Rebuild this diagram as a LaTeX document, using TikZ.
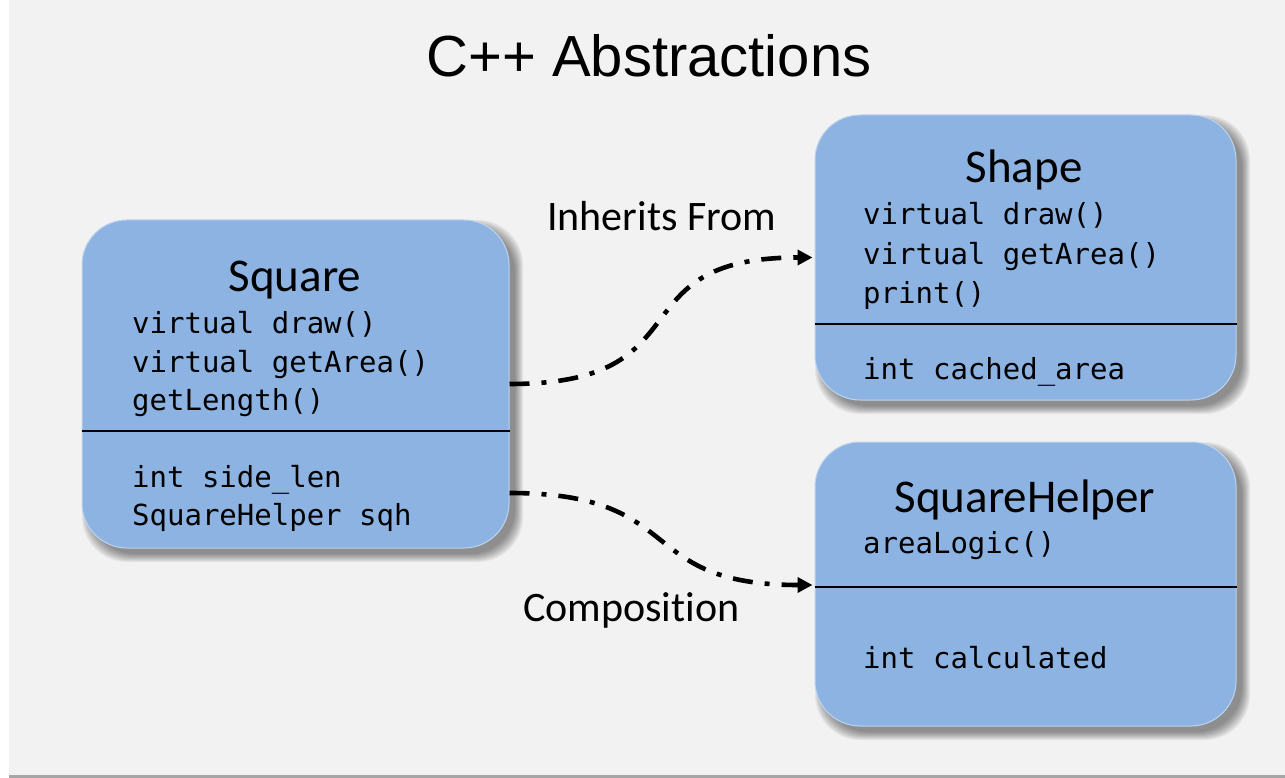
\documentclass[tikz,border=0pt]{standalone}
\usepackage{fontspec}
\setmainfont[Ligatures={NoCommon,NoContextual}]{Carlito}
\setmonofont{DejaVu Sans Mono}
\newfontfamily\arialfont{Liberation Sans}
\usetikzlibrary{arrows.meta}
\definecolor{slidebg}{HTML}{F2F2F2}
\definecolor{boxblue}{RGB}{141,179,226}
\definecolor{boxedge}{RGB}{190,212,238}
\definecolor{bottomline}{HTML}{A6A6A6}
\newcommand\myshadow[4]{%
  \foreach \k in {0,...,8}{%
    \fill[black, opacity=0.055, rounded corners=45pt]
      ({#1+8-\k},{#2+8-\k}) rectangle ({#3+6+\k},{#4+6+\k});
  }}
\begin{document}
\begin{tikzpicture}[x=1pt,y=-1pt,
  umlbox/.style={draw=boxedge, line width=1pt, fill=boxblue, rounded corners=45pt,
                 inner sep=0pt, minimum width=#1},
  titletext/.style={font=\fontsize{47}{56}\selectfont, anchor=base},
  codetext/.style={font=\ttfamily\fontsize{29}{38}\selectfont, anchor=base west, inner sep=0pt},
  labeltext/.style={font=\fontsize{42}{50}\selectfont, anchor=base west, inner sep=0pt},
  divider/.style={line width=2pt, black},
  conn/.style={line width=4.6pt, black, dash pattern=on 20pt off 12pt on 5pt off 12pt,
               -{Triangle[length=15pt,width=15pt]}}
]
\useasboundingbox (0,0) rectangle (1285,778);
\fill[white] (0,0) rectangle (1285,778);
\fill[slidebg] (9,0) rectangle (1285,775);
\fill[bottomline] (9,775) rectangle (1285,778);

% title
\node[font=\arialfont\fontsize{58}{70}\selectfont, anchor=base, inner sep=0pt] (title) at (649,77) {C++ Abstractions};

% shadows
\myshadow{82}{220}{509}{548}
\myshadow{815}{115}{1236}{400}
\myshadow{815}{442}{1236}{726}

% boxes
\node[umlbox=427pt, minimum height=328pt] (sq) at (295.5,384) {};
\node[umlbox=421pt, minimum height=285pt] (sh) at (1025.5,257.5) {};
\node[umlbox=421pt, minimum height=284pt] (sqh) at (1025.5,584) {};

% dividers
\draw[divider] ([yshift=-47pt]sq.west) -- ([yshift=-47pt]sq.east);
\draw[divider] ([yshift=-66.5pt]sh.west) -- ([yshift=-66.5pt]sh.east);
\draw[divider] ([yshift=-3pt]sqh.west) -- ([yshift=-3pt]sqh.east);

% Square texts
\node[titletext] (sqtitle) at (295,291) {Square};
\node[codetext] (sq1) at (132,333) {virtual draw()};
\node[codetext] (sq2) at (132,372) {virtual getArea()};
\node[codetext] (sq3) at (132,410) {getLength()};
\node[codetext] (sq4) at (132,487) {int side\_len};
\node[codetext] (sq5) at (132,525) {SquareHelper sqh};

% Shape texts
\node[titletext] (shtitle) at (1024,183) {Shape};
\node[codetext] (sh1) at (863,225) {virtual draw()};
\node[codetext] (sh2) at (863,265) {virtual getArea()};
\node[codetext] (sh3) at (863,303) {print()};
\node[codetext] (sh4) at (863,379) {int cached\_area};

% SquareHelper texts
\node[titletext] (sqhtitle) at (1025,512) {SquareHelper};
\node[codetext] (sqh1) at (863,553) {areaLogic()};
\node[codetext] (sqh2) at (863,668) {int calculated};

% labels
\node[labeltext] (inh) at (547,231) {Inherits From};
\node[labeltext] (comp) at (523,621) {Composit\kern0pt ion};

% connectors
\draw[conn] (sq.east) .. controls +(200,0) and +(-200,0) .. ([xshift=-2pt]sh.west);
\draw[conn] ([yshift=-109pt]sq.east) .. controls +(180,0) and +(-180,0) .. ([xshift=-2pt,yshift=-1pt]sqh.west);
\end{tikzpicture}
\end{document}
